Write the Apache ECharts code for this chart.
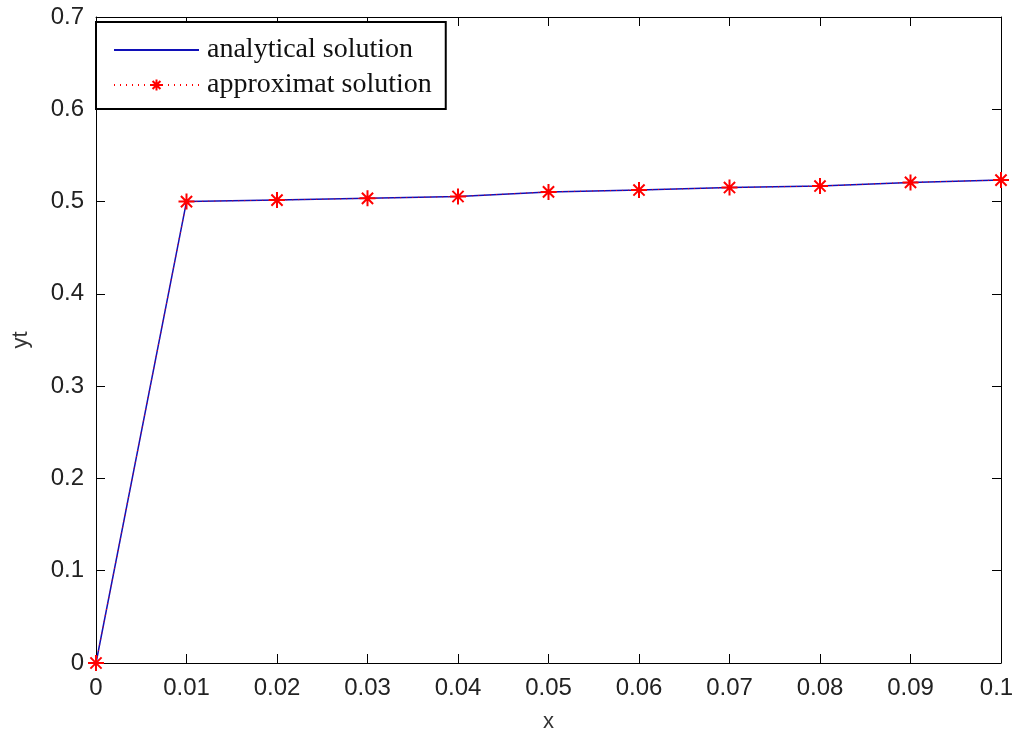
<!DOCTYPE html>
<html>
<head>
<meta charset="utf-8">
<title>yt</title>
<script src="https://cdn.jsdelivr.net/npm/echarts@6/dist/echarts.min.js"></script>
<style>
    html, body { margin: 0; padding: 0; background: #fff; }
    #chart { width: 1015px; height: 729px; }
</style>
</head>
<body>
<div id="chart"></div>
<script>
// 数据
const xValues = [0, 0.01, 0.02, 0.03, 0.04, 0.05, 0.06, 0.07, 0.08, 0.09, 0.1];
const analytical = [0, 0.500, 0.5016, 0.5035, 0.5055, 0.5105, 0.5125, 0.5152, 0.5168, 0.5208, 0.5233];
const approximat = [0, 0.500, 0.5016, 0.5035, 0.5055, 0.5105, 0.5125, 0.5152, 0.5168, 0.5208, 0.5233];
const legendNames = ['analytical solution', 'approximat solution'];
const xMax = 0.1;

// 星号标记
const starSymbol = 'path://M0,-10L0,10M-10,0L10,0M-7,-7L7,7M-7,7L7,-7';

const tickFont = { fontFamily: 'Liberation Sans', fontSize: 24, color: '#222' };
const nameFont = { fontFamily: 'Liberation Sans', fontSize: 22, color: '#333' };

function pairs(ys) {
    return xValues.map((x, i) => [x, ys[i]]);
}

const chart = echarts.init(document.getElementById('chart'));

const option = {
    backgroundColor: '#fff',
    animation: false,
    grid: {
        left: 96,
        right: 14,
        top: 17,
        bottom: 66,
        outerBoundsMode: 'none'
    },
    legend: {
        orient: 'vertical',
        left: 96,
        top: 22,
        padding: [14, 14, 10, 17],
        itemWidth: 85,
        itemHeight: 14,
        itemGap: 7,
        borderColor: '#000',
        borderWidth: 2,
        backgroundColor: '#fff',
        textStyle: {
            fontFamily: 'Liberation Serif',
            fontSize: 28,
            color: '#111',
            padding: [0, 0, 0, 3]
        },
        data: [
            // 图例里不画圆点
            { name: legendNames[0], itemStyle: { color: 'rgba(0,0,0,0)', borderWidth: 0 } },
            { name: legendNames[1] }
        ]
    },
    xAxis: [
        {
            type: 'value',
            min: 0,
            max: xMax,
            interval: 0.01,
            name: 'x',
            nameLocation: 'middle',
            nameGap: 48,
            nameTextStyle: nameFont,
            axisLine: { onZero: false, lineStyle: { color: '#000', width: 1 } },
            axisTick: { inside: true, length: 9, lineStyle: { color: '#000' } },
            axisLabel: Object.assign({
                margin: 13,
                formatter: function (v) {
                    // 最右边的标签往里收一点
                    return Math.abs(v - xMax) < 1e-9 ? '{m|' + v + '}' : String(v);
                },
                rich: { m: Object.assign({ padding: [0, 9, 0, 0] }, tickFont) }
            }, tickFont),
            splitLine: { show: false }
        },
        {
            type: 'value',
            position: 'top',
            min: 0,
            max: xMax,
            interval: 0.01,
            axisLine: { onZero: false, lineStyle: { color: '#000', width: 1 } },
            axisTick: { inside: true, length: 9, lineStyle: { color: '#000' } },
            axisLabel: { show: false },
            splitLine: { show: false }
        }
    ],
    yAxis: [
        {
            type: 'value',
            min: 0,
            max: 0.7,
            interval: 0.1,
            name: 'yt',
            nameLocation: 'middle',
            nameGap: 64,
            nameTextStyle: nameFont,
            axisLine: { show: true, onZero: false, lineStyle: { color: '#000', width: 1 } },
            axisTick: { show: true, inside: true, length: 9, lineStyle: { color: '#000' } },
            axisLabel: Object.assign({ margin: 12 }, tickFont),
            splitLine: { show: false }
        },
        {
            type: 'value',
            position: 'right',
            min: 0,
            max: 0.7,
            interval: 0.1,
            axisLine: { show: true, onZero: false, lineStyle: { color: '#000', width: 1 } },
            axisTick: { show: true, inside: true, length: 9, lineStyle: { color: '#000' } },
            axisLabel: { show: false },
            splitLine: { show: false }
        }
    ],
    series: [
        {
            name: legendNames[0],
            type: 'line',
            data: pairs(analytical),
            showSymbol: false,
            symbol: 'none',
            z: 2,
            lineStyle: { color: '#1010b8', width: 1.5 },
            itemStyle: { color: '#1010b8' }
        },
        {
            name: legendNames[1],
            type: 'line',
            data: pairs(approximat),
            symbol: starSymbol,
            symbolSize: 16,
            z: 3,
            lineStyle: { color: '#ff0000', width: 1, type: [1, 5] },
            itemStyle: { color: '#ff0000', borderColor: '#ff0000', borderWidth: 2 }
        }
    ]
};

chart.setOption(option);
</script>
</body>
</html>
